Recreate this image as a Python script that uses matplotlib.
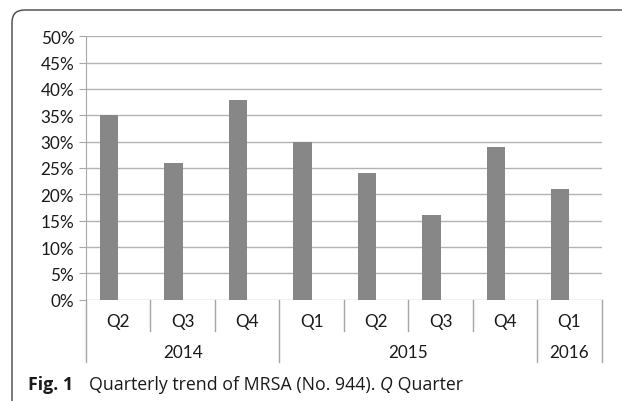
import matplotlib.pyplot as plt
from matplotlib.patches import FancyBboxPatch
from matplotlib.ticker import FuncFormatter
import matplotlib.transforms as mtransforms

quarters = ["Q2", "Q3", "Q4", "Q1", "Q2", "Q3", "Q4", "Q1"]
years = ["2014", "2015", "2016"]
year_counts = [3, 4, 1]
mrsa_pct = [35, 26, 38, 30, 24, 16, 29, 21]

W, H = 622, 402
fig = plt.figure(figsize=(W / 100, H / 100), dpi=100)

# rounded frame around the figure (open at right/bottom)
frame = FancyBboxPatch((12 / W, -20 / H), 700 / W, (H - 11 + 20) / H,
                       boxstyle="round,pad=0,rounding_size=0.02",
                       transform=fig.transFigure, fill=False,
                       edgecolor="#444444", linewidth=1.0, mutation_aspect=W / H)
fig.patches.append(frame)

ax = fig.add_axes([86 / W, (H - 300.7) / H, 515.7 / W, 263.4 / H])
x = list(range(len(mrsa_pct)))
ax.bar(x, mrsa_pct, width=-0.285, align="edge", color="#878787", zorder=3)

ax.set_xlim(-0.5, len(mrsa_pct) - 0.5)
ax.set_ylim(0, 50)
ax.set_yticks(range(0, 51, 5))
ax.yaxis.set_major_formatter(FuncFormatter(lambda v, p: f"{int(v)}%"))
ax.yaxis.grid(True, color="#b3b3b3", linewidth=1.0, zorder=0)
ax.set_axisbelow(True)
ax.set_xticks([])
for s in ["top", "right", "bottom"]:
    ax.spines[s].set_visible(False)
ax.spines["left"].set_color("#a6a6a6")
ax.tick_params(axis="y", length=5, color="#a6a6a6", pad=3.5,
               labelsize=12.3, labelcolor="#1a1a1a")
for lab in ax.get_yticklabels():
    lab.set_family("Lato")

# category axis: quarter and year levels
tr = mtransforms.blended_transform_factory(ax.transData, ax.transAxes)
short_y = -31.3 / 263.4
long_y = -62.5 / 263.4
bounds = [-0.5]
for c in year_counts:
    bounds.append(bounds[-1] + c)
for b in [i - 0.5 for i in range(len(quarters) + 1)]:
    yb = long_y if b in bounds else short_y
    ax.plot([b, b], [0, yb], transform=tr, color="#a6a6a6",
            linewidth=1.0, clip_on=False)
for i, q in enumerate(quarters):
    ax.text(i, -21 / 263.4, q, transform=tr, ha="center", va="center",
            fontsize=12.3, family="Lato", color="#1a1a1a")
for k, yr in enumerate(years):
    center = (bounds[k] + bounds[k + 1]) / 2
    ax.text(center, -52.6 / 263.4, yr, transform=tr, ha="center",
            va="center", fontsize=12.3, family="Lato", color="#1a1a1a")

# caption, built piece by piece
fig.canvas.draw()
renderer = fig.canvas.get_renderer()
parts = [("Fig. 1", "bold", "normal", 28),
         ("Quarterly trend of MRSA (No. 944). ", "normal", "normal", 89),
         ("Q", "normal", "italic", None),
         (" Quarter", "normal", "normal", None)]
xpos = 28
for txt, weight, style, fixed in parts:
    if fixed is not None:
        xpos = fixed
    t = fig.text(xpos / W, 1 - 390 / H, txt, fontsize=12.8, family="Open Sans",
                 weight=weight, style=style, color="#1a1a1a", va="baseline")
    xpos = t.get_window_extent(renderer).x1

fig.savefig("out.png", dpi=100)
